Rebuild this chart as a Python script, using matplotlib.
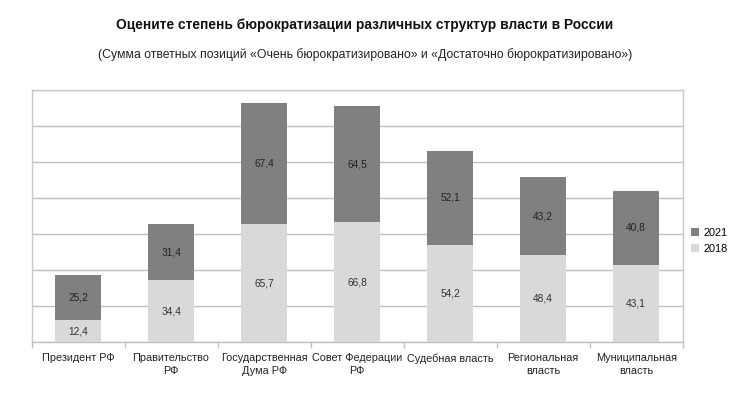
import matplotlib
matplotlib.use("Agg")
import matplotlib.pyplot as plt
import numpy as np

categories = ["Президент РФ", "Правительство\nРФ", "Государственная\nДума РФ",
              "Совет Федерации\nРФ", "Судебная власть", "Региональная\nвласть",
              "Муниципальная\nвласть"]
v2018 = [12.4, 34.4, 65.7, 66.8, 54.2, 48.4, 43.1]
v2021 = [25.2, 31.4, 67.4, 64.5, 52.1, 43.2, 40.8]
series_labels = ["2021", "2018"]

plt.rcParams['font.family'] = ['Liberation Sans', 'DejaVu Sans']

fig = plt.figure(figsize=(7.30, 3.98), dpi=100)
ax = fig.add_axes([31.5/730, 1-342.3/398, (682.7-31.5)/730, (342.3-90.3)/398])

x = np.arange(len(categories))
c18 = "#d9d9d9"
c21 = "#808080"
b18 = ax.bar(x, v2018, width=0.5, color=c18, label=series_labels[1], zorder=3)
b21 = ax.bar(x, v2021, width=0.5, bottom=v2018, color=c21, label=series_labels[0], zorder=3)

for xi, a, b in zip(x, v2018, v2021):
    ax.text(xi, a/2, f"{a:.1f}".replace(".", ","), ha="center", va="center",
            fontsize=7.3, color="#333333", zorder=4)
    ax.text(xi, a + b/2, f"{b:.1f}".replace(".", ","), ha="center", va="center",
            fontsize=7.3, color="#222222", zorder=4)

ax.set_xlim(-0.5, len(categories) - 0.5)
ax.set_ylim(0, 140)
ax.set_yticks(np.arange(0, 141, 20))
ax.yaxis.grid(True, color="#c0c0c0", linewidth=1.0, zorder=0)
ax.tick_params(axis="y", left=False, labelleft=False)
ax.set_xticks(x)
ax.set_xticklabels(categories, fontsize=7.8, color="#222222", linespacing=1.3)
ax.tick_params(axis="x", which="major", length=0, pad=8)
ax.set_xticks(np.arange(-0.5, len(categories), 1.0), minor=True)
ax.tick_params(axis="x", which="minor", length=4, color="#bfbfbf", width=1)
for s in ax.spines.values():
    s.set_color("#c8c8c8")
    s.set_linewidth(1.0)
ax.spines["bottom"].set_color("#bfbfbf")

handles = [b21, b18]
fig.legend(handles, series_labels, loc="center left",
           bbox_to_anchor=(689/730, 1-241/398), borderaxespad=0, borderpad=0.2,
           frameon=False, fontsize=7.8, handlelength=0.75, handleheight=0.75,
           handletextpad=0.4, labelspacing=0.55)

fig.text(0.5, 1-25/398, "Оцените степень бюрократизации различных структур власти в России",
         ha="center", va="center", fontsize=9.9, fontweight="bold", color="#111111")
fig.text(0.5, 1-55/398, "(Сумма ответных позиций «Очень бюрократизировано» и «Достаточно бюрократизировано»)",
         ha="center", va="center", fontsize=8.8, color="#222222")

fig.savefig("out.png", dpi=100)
